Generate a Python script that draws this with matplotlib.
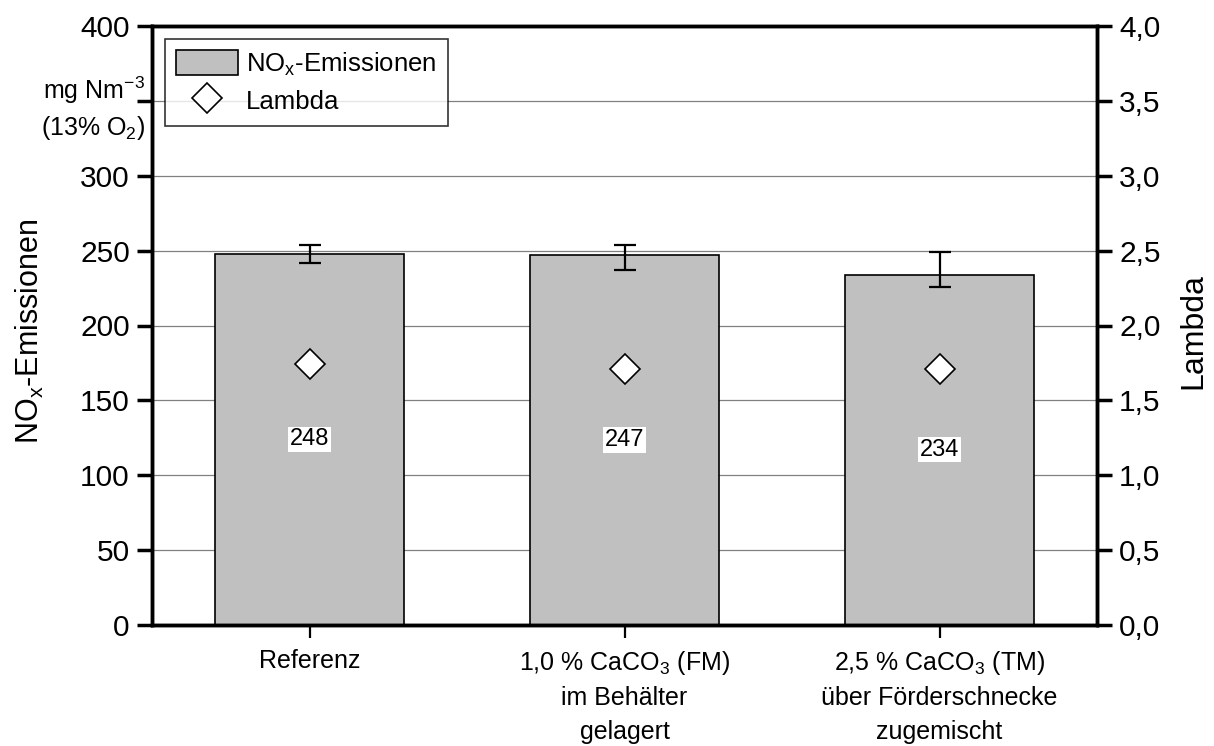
import matplotlib.pyplot as plt
import numpy as np

plt.rcParams['font.family'] = ['Liberation Sans', 'DejaVu Sans']
plt.rcParams['mathtext.fontset'] = 'custom'
plt.rcParams['mathtext.rm'] = 'Liberation Sans'
plt.rcParams['mathtext.it'] = 'Liberation Sans'

# data
kategorien = ['Referenz',
              '1,0 % CaCO$_3$ (FM)\nim Behälter\ngelagert',
              '2,5 % CaCO$_3$ (TM)\nüber Förderschnecke\nzugemischt']
nox = [248, 247, 234]
nox_fehler_unten = [6, 10, 8]
nox_fehler_oben = [6, 7, 15]
nox_labels = ['248', '247', '234']
lambda_werte = [1.74, 1.71, 1.71]

links_ticks = np.arange(0, 401, 50)
links_labels = ['0', '50', '100', '150', '200', '250', '300', '', '400']
rechts_ticks = np.arange(0, 4.01, 0.5)
rechts_labels = ['0,0', '0,5', '1,0', '1,5', '2,0', '2,5', '3,0', '3,5', '4,0']

x = np.arange(len(kategorien))

fig = plt.figure(figsize=(12.14, 7.46), dpi=100)
ax = fig.add_axes([152/1214, 121/746, 945/1214, 599/746])
ax2 = ax.twinx()

ax.set_axisbelow(True)
ax.yaxis.grid(True, color='#808080', lw=0.9)
ax.bar(x, nox, width=0.6, color='#c0c0c0', edgecolor='black', lw=1.2,
       label='NO$_\\mathrm{x}$-Emissionen', zorder=2)
ax.errorbar(x, nox, yerr=[nox_fehler_unten, nox_fehler_oben], fmt='none',
            ecolor='black', elinewidth=1.6, capsize=8, capthick=1.6, zorder=3)
for xi, v, t in zip(x, nox, nox_labels):
    ax.text(xi, v / 2, t, ha='center', va='center', fontsize=17, zorder=4,
            bbox=dict(facecolor='white', edgecolor='none', pad=1.2))

ax2.plot(x, lambda_werte, ls='none', marker='D', ms=15, mfc='white',
         mec='black', mew=1.2, label='Lambda', zorder=5)

ax.set_xlim(-0.5, 2.5)
ax.set_ylim(0, 400)
ax.set_yticks(links_ticks)
ax.set_yticklabels(links_labels)
ax2.set_ylim(0, 4)
ax2.set_yticks(rechts_ticks)
ax2.set_yticklabels(rechts_labels)

ax.set_xticks(x)
ax.set_xticklabels(kategorien, fontsize=18, linespacing=1.5)
ax.tick_params(axis='x', length=9, width=1.6, pad=8)
ax.tick_params(axis='y', labelsize=21.5, length=11, width=2.5, pad=5)
ax2.tick_params(axis='y', labelsize=21.5, length=11, width=2.5, pad=5)

for a in (ax, ax2):
    for s in a.spines.values():
        s.set_linewidth(2.5)

ax.set_ylabel('NO$_\\mathrm{x}$-Emissionen', fontsize=22)
ax.yaxis.set_label_coords(-0.112, 0.491)
ax2.set_ylabel('Lambda', fontsize=23)
ax2.yaxis.set_label_coords(1.086, 0.491)

fig.text(145/1214, 1 - 90/746, 'mg Nm$^{-3}$', ha='right', va='center', fontsize=18)
fig.text(145/1214, 1 - 128/746, '(13% O$_2$)', ha='right', va='center', fontsize=18)

h1, l1 = ax.get_legend_handles_labels()
h2, l2 = ax2.get_legend_handles_labels()
leg = ax2.legend(h1 + h2, l1 + l2, loc='upper left', fontsize=18.5, frameon=True,
                 fancybox=False, edgecolor='black', borderaxespad=0.5,
                 borderpad=0.45, handlelength=2.4, handleheight=1.1,
                 handletextpad=0.3, labelspacing=0.4)
leg.get_frame().set_linewidth(1.2)

fig.savefig('out.png', dpi=100)
